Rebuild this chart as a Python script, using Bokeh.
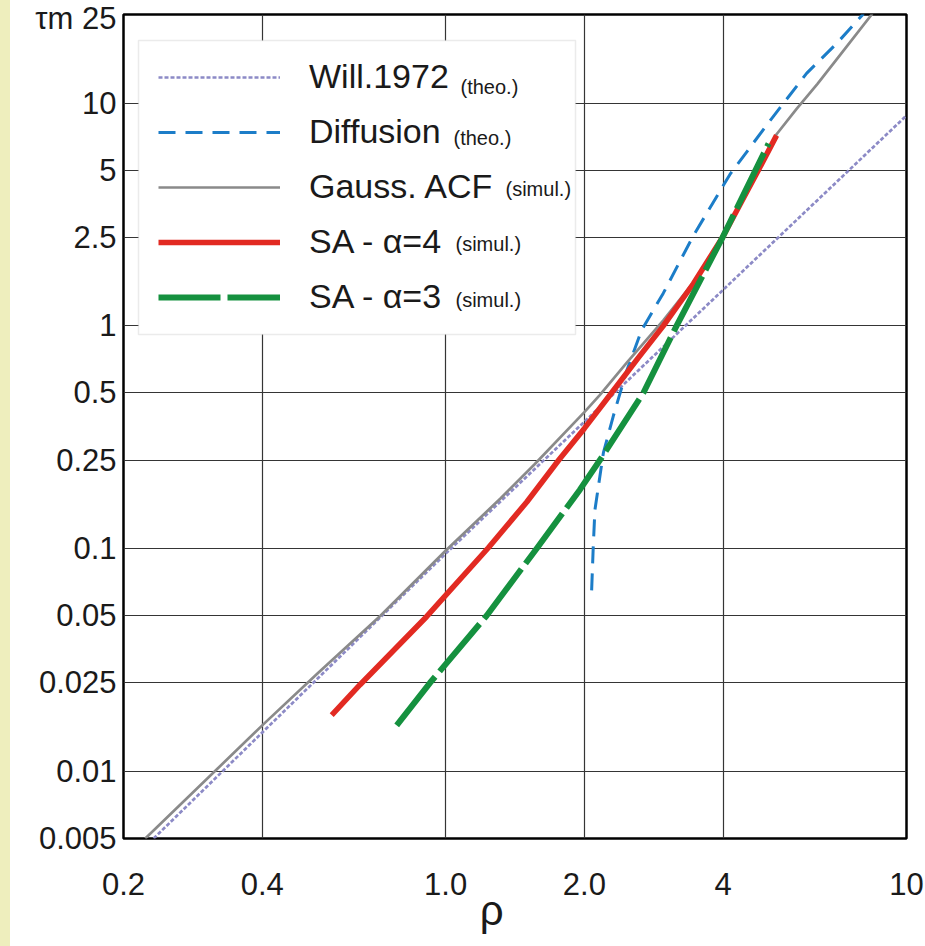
from bokeh.plotting import figure
from bokeh.models import FixedTicker, Legend, LegendItem, Label, BoxAnnotation
from bokeh.embed import file_html
from bokeh.resources import INLINE

# ---------------- data ----------------
x_ticks = [0.2, 0.4, 1.0, 2.0, 4.0, 10.0]
x_tick_labels = ["0.2", "0.4", "1.0", "2.0", "4", "10"]
y_ticks = [0.005, 0.01, 0.025, 0.05, 0.1, 0.25, 0.5, 1.0, 2.5, 5.0, 10.0, 25.0]
y_tick_labels = ["0.005", "0.01", "0.025", "0.05", "0.1", "0.25", "0.5", "1", "2.5", "5", "10", "\u03c4m 25"]

will_rho = [0.2325, 1.0, 10.0]
will_tau = [0.005, 0.095, 8.8]

diff_rho = [2.074, 2.09, 2.108, 2.199, 2.311, 2.470, 2.663, 2.967, 3.446, 4.139, 4.971, 6.07, 7.05, 8.07]
diff_tau = [0.065, 0.100, 0.149, 0.269, 0.394, 0.627, 0.958, 1.403, 2.538, 4.787, 7.96, 13.6, 18.5, 25.2]

gauss_rho = [0.223, 0.40, 0.525, 0.722, 0.997, 1.315, 1.562, 2.0, 2.162, 2.47, 2.967, 3.45, 3.99, 4.77, 5.225, 5.775, 6.41, 7.30, 8.43]
gauss_tau = [0.005, 0.0161, 0.0273, 0.050, 0.0973, 0.168, 0.240, 0.41, 0.49, 0.683, 1.06, 1.57, 2.50, 5.1, 7.25, 9.43, 12.2, 17.2, 25.2]

sa4_rho = [0.566, 0.652, 0.909, 1.238, 1.50, 1.76, 2.0, 2.29, 2.62, 2.967, 3.45, 3.99, 4.35, 4.77, 5.225]
sa4_tau = [0.0179, 0.0245, 0.0495, 0.101, 0.162, 0.25, 0.3465, 0.50, 0.72, 1.0, 1.55, 2.5, 3.5, 5.0, 7.165]

sa3_rho = [0.783, 0.925, 1.227, 1.575, 1.956, 2.162, 2.685, 3.17, 3.99, 5.02]
sa3_tau = [0.0161, 0.025, 0.05, 0.10, 0.184, 0.25, 0.50, 1.0, 2.5, 6.58]

legend_main = ["Will.1972", "Diffusion", "Gauss. ACF", "SA - \u03b1=4", "SA - \u03b1=3"]
legend_note = ["(theo.)", "(theo.)", "(simul.)", "(simul.)", "(simul.)"]

# ---------------- layout ----------------
FL, FR, FT, FB = 123, 906, 14, 838      # frame edges in page pixels
W, H = 925, 946

def sx(px):
    return px - FL

def sy(py):
    return FB - py

FONT = "Liberation Sans"
TXT = "#1a1a1a"

p = figure(width=W, height=H, x_axis_type="log", y_axis_type="log",
           x_range=(0.2, 10), y_range=(0.005, 25),
           output_backend="svg", toolbar_location=None,
           min_border_left=FL, min_border_right=W - FR,
           min_border_top=FT, min_border_bottom=H - FB)

p.background_fill_color = "white"
p.border_fill_color = None
p.outline_line_color = "black"
p.outline_line_width = 2.5

for ax in (p.xaxis[0], p.yaxis[0]):
    ax.axis_line_color = None
    ax.major_tick_line_color = None
    ax.minor_tick_line_color = None
    ax.major_tick_out = 0
    ax.major_tick_in = 0
    ax.major_label_text_font = FONT
    ax.major_label_text_font_size = "31px"
    ax.major_label_text_color = TXT

p.xaxis.ticker = FixedTicker(ticks=x_ticks)
p.xaxis.major_label_overrides = {t: l for t, l in zip(x_ticks, x_tick_labels)}
p.xaxis.major_label_standoff = 34
p.xaxis.axis_label = "\u03c1\u00a0\u00a0\u00a0\u00a0"
p.xaxis.axis_label_text_font = FONT
p.xaxis.axis_label_text_font_size = "42px"
p.xaxis.axis_label_text_font_style = "normal"
p.xaxis.axis_label_text_color = TXT
p.xaxis.axis_label_standoff = -11

p.yaxis.ticker = FixedTicker(ticks=y_ticks)
p.yaxis.major_label_overrides = {t: l for t, l in zip(y_ticks, y_tick_labels)}
p.yaxis.major_label_standoff = 7

for g in (p.xgrid[0], p.ygrid[0]):
    g.grid_line_color = "#353535"
    g.grid_line_width = 1.2
    g.grid_line_alpha = 1.0

r_will = p.line(will_rho, will_tau, line_color="#8C8AC6", line_width=2.7, line_dash="4 2")
r_diff = p.line(diff_rho, diff_tau, line_color="#1C7DC8", line_width=3, line_dash="17 10")
r_gauss = p.line(gauss_rho, gauss_tau, line_color="#8A8A8A", line_width=2.7, line_join="round")
r_sa4 = p.line(sa4_rho, sa4_tau, line_color="#E22A22", line_width=5.5, line_join="round")
r_sa3 = p.line(sa3_rho, sa3_tau, line_color="#15913F", line_width=6, line_dash="62 7", line_join="round")

# legend frame (drawn as a box so that the small notes can sit on top of it)
p.add_layout(BoxAnnotation(left=sx(138), right=sx(575), top=sy(40), bottom=sy(334),
                           left_units="screen", right_units="screen",
                           top_units="screen", bottom_units="screen",
                           fill_color="white", fill_alpha=1.0,
                           line_color="#BDBDBD", line_width=1.5))

renderers = [r_will, r_diff, r_gauss, r_sa4, r_sa3]
legend = Legend(items=[LegendItem(label=t, renderers=[r]) for t, r in zip(legend_main, renderers)],
                location=(sx(158), sy(316)), margin=0, padding=0, spacing=16,
                glyph_width=122, glyph_height=30, label_height=30,
                label_standoff=29, label_text_font=FONT, label_text_font_size="34px",
                label_text_color=TXT,
                border_line_color=None, background_fill_alpha=0.0)
p.add_layout(legend)

note_x = [460, 453, 505, 455, 455]
note_y = [86, 137, 188, 243, 299]
for t, nx, ny in zip(legend_note, note_x, note_y):
    p.add_layout(Label(x=sx(nx), y=sy(ny), x_units="screen", y_units="screen", text=t,
                       text_font=FONT, text_font_size="20px", text_color=TXT,
                       text_align="left", text_baseline="alphabetic"))

html = file_html(p, INLINE)
html = html.replace("</head>", "<style>body{background:linear-gradient(to right,#EEEEBD 10px,#FFFFFF 10px) !important;}</style></head>", 1)
open("out.html", "w").write(html)
